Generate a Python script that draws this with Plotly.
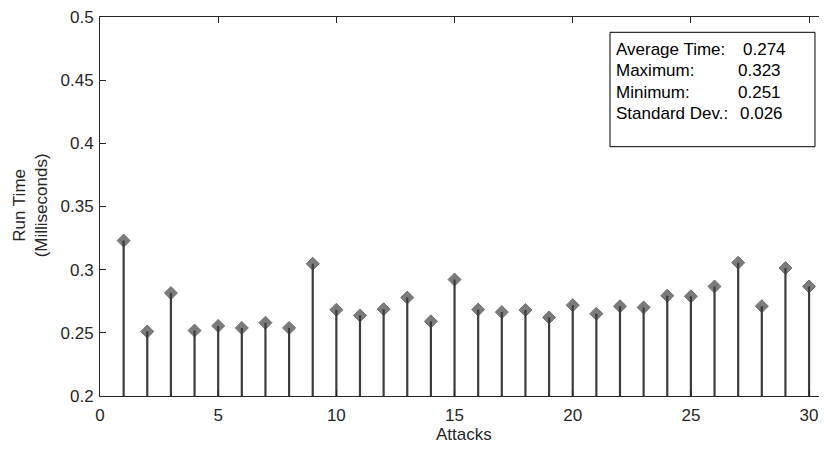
import plotly.graph_objects as go

attacks = list(range(1, 31))
run_time = [0.323, 0.251, 0.2815, 0.2518, 0.2555, 0.2539, 0.258, 0.2539, 0.3047, 0.2682,
            0.2638, 0.2687, 0.2779, 0.2591, 0.2922, 0.2684, 0.2664, 0.268, 0.2622, 0.2719,
            0.2651, 0.2711, 0.2701, 0.2794, 0.2789, 0.2867, 0.3055, 0.2711, 0.3013, 0.2867]
stat_labels = ["Average Time:", "Maximum:", "Minimum:", "Standard Dev.:"]
stat_values = ["0.274", "0.323", "0.251", "0.026"]
baseline = 0.0

FONT = "Liberation Sans, Arial, Helvetica, sans-serif"
AX = "#262626"

stem_x, stem_y = [], []
for xv, yv in zip(attacks, run_time):
    stem_x += [xv, xv, None]
    stem_y += [baseline, yv, None]

fig = go.Figure()
fig.add_trace(go.Scatter(x=attacks, y=run_time, mode="markers",
                         marker=dict(symbol="diamond", size=10, color="#7b7b7b",
                                     line=dict(color="#707070", width=1)),
                         showlegend=False, hoverinfo="skip"))
fig.add_trace(go.Scatter(x=stem_x, y=stem_y, mode="lines",
                         line=dict(color="#3c3c3c", width=2.2),
                         showlegend=False, hoverinfo="skip"))

axis_common = dict(showline=True, linecolor=AX, linewidth=1,
                   ticks="inside", ticklen=6, tickcolor=AX, showgrid=False,
                   zeroline=False, ticklabeloverflow="allow", automargin=False,
                   tickfont=dict(family=FONT, size=17, color=AX))

fig.update_xaxes(range=[0, 30.42], tickvals=[0, 5, 10, 15, 20, 25, 30],
                 ticklabelstandoff=4, mirror="ticks", **axis_common)
fig.update_yaxes(range=[0.2, 0.5], tickvals=[0.2, 0.25, 0.3, 0.35, 0.4, 0.45, 0.5],
                 ticktext=["0.2", "0.25", "0.3", "0.35", "0.4", "0.45", "0.5"],
                 ticklabelstandoff=2, mirror=False, **axis_common)

annotations = []
annotations.append(dict(text="Attacks", x=0.5063, y=-0.1029, xref="paper", yref="paper",
                        xanchor="center", yanchor="middle", showarrow=False,
                        font=dict(family=FONT, size=17, color=AX)))
annotations.append(dict(text="Run Time<br>(Milliseconds)", x=-0.0974, y=0.503,
                        xref="paper", yref="paper", textangle=-90,
                        xanchor="center", yanchor="middle", showarrow=False,
                        font=dict(family=FONT, size=17, color=AX)))
ys = [0.9148, 0.8583, 0.8013, 0.7459]
vx = [0.8915, 0.8846, 0.8846, 0.8873]
for lab, val, yy, xx in zip(stat_labels, stat_values, ys, vx):
    annotations.append(dict(text=lab, x=0.7149, y=yy, xref="paper", yref="paper",
                            xanchor="left", yanchor="middle", showarrow=False,
                            font=dict(family=FONT, size=17, color="black")))
    annotations.append(dict(text=val, x=xx, y=yy, xref="paper", yref="paper",
                            xanchor="left", yanchor="middle", showarrow=False,
                            font=dict(family=FONT, size=17, color="black")))

fig.update_layout(
    width=811, height=436,
    margin=dict(l=92, r=0, t=9, b=48),
    paper_bgcolor="white", plot_bgcolor="white",
    annotations=annotations,
    shapes=[dict(type="rect", xref="paper", yref="paper",
                 x0=0.7093, x1=0.9944, y0=0.6578, y1=0.9596,
                 line=dict(color="black", width=1), fillcolor="white", layer="above")],
)

fig.write_html("out.html")
